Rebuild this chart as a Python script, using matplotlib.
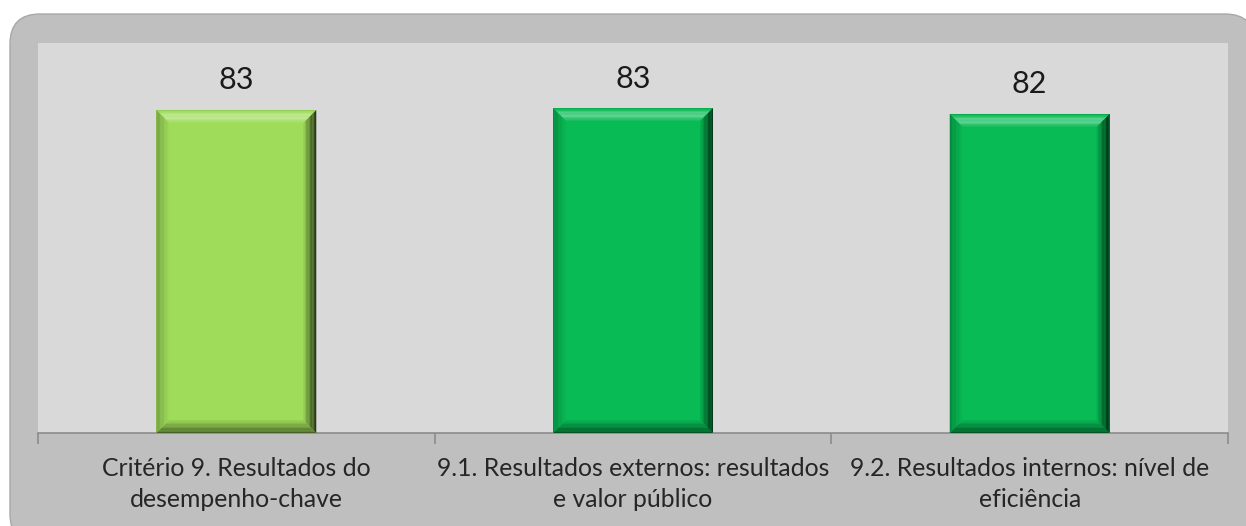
import numpy as np
import matplotlib.pyplot as plt
from matplotlib.patches import FancyBboxPatch, Polygon
from matplotlib.colors import to_rgb

plt.rcParams['font.family'] = ['Lato', 'DejaVu Sans']

categories = [
    "Critério 9. Resultados do\ndesempenho-chave",
    "9.1. Resultados externos: resultados\ne valor público",
    "9.2. Resultados internos: nível de\neficiência",
]
values = [82.8, 83.3, 81.8]
bar_colors = ["#9fdc5a", "#08bb55", "#08bb55"]

W, H = 1246, 526
fig = plt.figure(figsize=(W / 100, H / 100), dpi=100)
fig.patch.set_facecolor("white")

# rounded grey frame behind everything, drawn in pixel units
bg = fig.add_axes([0, 0, 1, 1])
bg.set_xlim(0, W)
bg.set_ylim(H, 0)
bg.axis("off")
bg.add_patch(FancyBboxPatch((10, 14), 1245, 530,
                            boxstyle="round,pad=0,rounding_size=30",
                            facecolor="#bfbfbf", edgecolor="#a8a8a8", lw=1.0))

# plot area: x 38..1228, y 43..433 px
left, right, top, bottom = 38, 1228, 43, 433
ax = fig.add_axes([left / W, 1 - bottom / H, (right - left) / W, (bottom - top) / H])
ax.set_facecolor("#d9d9d9")
ax.set_xlim(-0.5, len(values) - 0.5)
ax.set_ylim(0, 100)

x = np.arange(len(values))
bars = ax.bar(x, values, width=0.403, color=bar_colors, zorder=2)

# bevel edges: pixel sizes converted to data units
px_x = (right - left) / 3.0
px_y = (bottom - top) / 100.0
b = 13
bx, by = b / px_x, b / px_y


def shade(c, f):
    c = np.array(to_rgb(c))
    if f >= 0:
        return tuple(c + (1 - c) * f)
    return tuple(c * (1 + f))


n = 10
for rect, col in zip(bars, bar_colors):
    x0, y0 = rect.get_x(), rect.get_y()
    x1, y1 = x0 + rect.get_width(), y0 + rect.get_height()
    for k in range(n):
        t0, t1 = k / n, (k + 1) / n
        fade = 1 - (k + 0.5) / n
        # top band (light)
        ax.add_patch(Polygon([(x0 + bx * t0, y1 - by * t0), (x1 - bx * t0, y1 - by * t0),
                              (x1 - bx * t1, y1 - by * t1), (x0 + bx * t1, y1 - by * t1)],
                             closed=True, lw=0, zorder=3,
                             facecolor=shade(col, 0.45 * np.sin(np.pi * (k + 0.5) / n) - 0.15 * fade)))
        # right band (dark)
        ax.add_patch(Polygon([(x1 - bx * t0, y1 - by * t0), (x1 - bx * t0, y0 + by * t0),
                              (x1 - bx * t1, y0 + by * t1), (x1 - bx * t1, y1 - by * t1)],
                             closed=True, lw=0, zorder=3,
                             facecolor=shade(col, -0.78 * fade ** 0.8)))
        # bottom band (dark)
        ax.add_patch(Polygon([(x0 + bx * t0, y0 + by * t0), (x1 - bx * t0, y0 + by * t0),
                              (x1 - bx * t1, y0 + by * t1), (x0 + bx * t1, y0 + by * t1)],
                             closed=True, lw=0, zorder=3,
                             facecolor=shade(col, -0.55 * fade - 0.03)))
        # left band (slightly dark)
        ax.add_patch(Polygon([(x0 + bx * t0, y1 - by * t0), (x0 + bx * t0, y0 + by * t0),
                              (x0 + bx * t1, y0 + by * t1), (x0 + bx * t1, y1 - by * t1)],
                             closed=True, lw=0, zorder=3,
                             facecolor=shade(col, -0.28 * fade)))

for xi, v in zip(x, values):
    ax.text(xi, v + 4.0, f"{v:.0f}", ha="center", va="bottom",
            fontsize=22, color="#1a1a1a", zorder=4)

for s in ["top", "right", "left"]:
    ax.spines[s].set_visible(False)
ax.spines["bottom"].set_color("#8c8c8c")
ax.spines["bottom"].set_linewidth(1.2)
ax.set_yticks([])

ax.set_xticks(x)
ax.set_xticklabels(categories, fontsize=17.8, color="#262626", linespacing=1.45)
ax.tick_params(axis="x", which="major", length=0, pad=17)
ax.set_xticks([-0.5, 0.5, 1.5, 2.5], minor=True)
ax.tick_params(axis="x", which="minor", length=8, color="#8c8c8c", width=1.2)

fig.savefig("out.png", dpi=100)
